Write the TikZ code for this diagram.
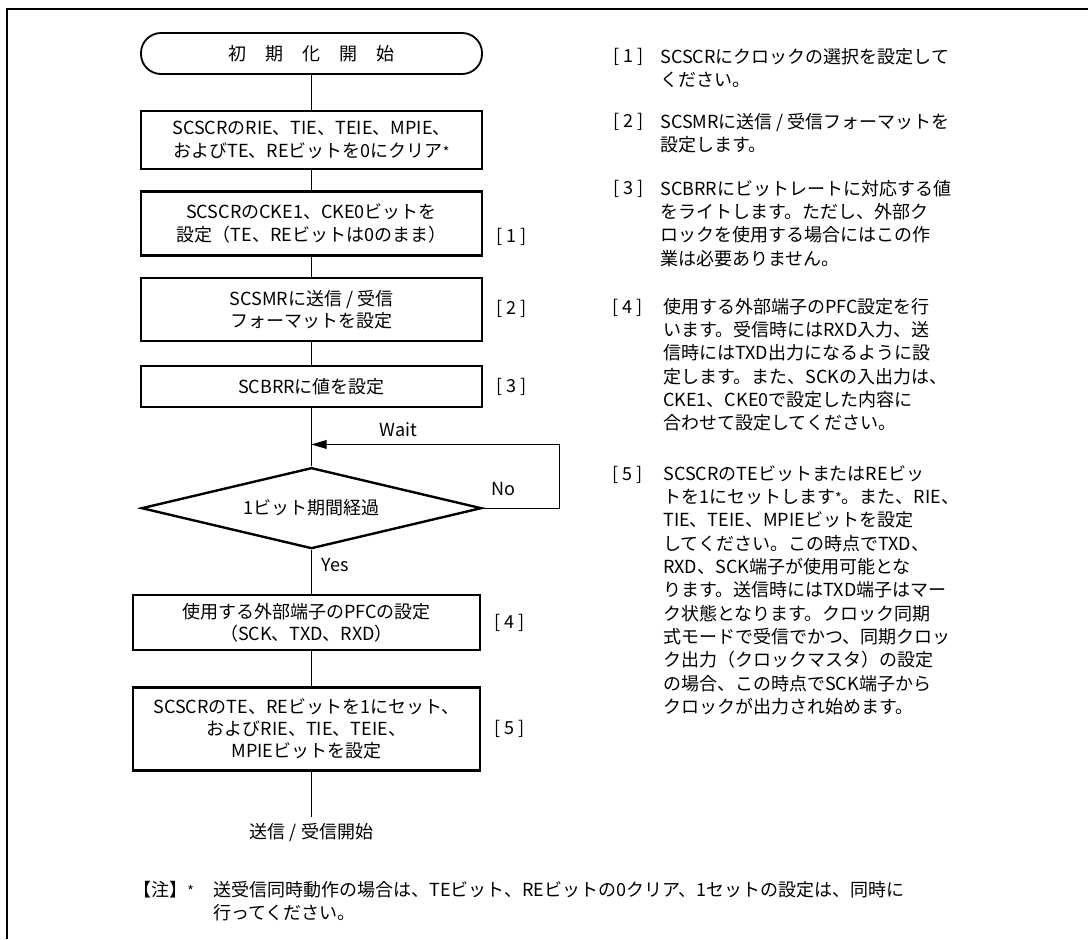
\documentclass[tikz,border=0pt]{standalone}
\usepackage{fontspec}
\setmainfont{Noto Sans CJK JP}
\usepackage{tikz}
\usetikzlibrary{shapes.geometric, arrows.meta, positioning}
\newcommand{\fnmark}{{\fontsize{10pt}{10pt}\selectfont *}}
\tikzset{
	startstop/.style={rectangle, rounded corners=0.5cm, minimum width=8.525cm, minimum height=1.025cm, align=center, draw=black, line width=1.3pt, font=\fontsize{12.8pt}{15.9pt}\selectfont},
	process/.style={rectangle, minimum width=8.525cm, align=center, draw=black, line width=1.7pt, font=\fontsize{12.8pt}{15.9pt}\selectfont},
	decision/.style={diamond, aspect=4.2, minimum width=8.5cm, minimum height=2.025cm, inner sep=0pt, align=center, draw=black, line width=1.7pt, font=\fontsize{12.8pt}{15.9pt}\selectfont},
	tag/.style={inner sep=0pt, font=\fontsize{12.8pt}{15.9pt}\selectfont},
	note/.style={inner sep=0pt, align=left, anchor=north west, font=\fontsize{12.8pt}{16.6pt}\selectfont},
	link/.style={line width=0.8pt},
	arrow/.style={line width=0.8pt, -{Triangle[length=3.8mm, width=2.2mm]}}
}
\begin{document}
\begin{tikzpicture}
	\useasboundingbox (0,0) rectangle (27.2,-23.475);
	% Rahmen
	\draw[line width=2pt] (0.175,-23.475) -- (0.175,-0.225) -- (27.2,-0.225);

	% Ablauf
	\node (start) [startstop] at (7.7875,-1.3375) {初\hspace{1.05em}期\hspace{1.05em}化\hspace{1.05em}開\hspace{1.05em}始};
	\node (clr) [process, below=0.875cm of start, minimum height=1.45cm] {SCSCRのRIE、TIE、TEIE、MPIE、\\およびTE、REビットを0にクリア\fnmark};
	\node (cke) [process, below=0.5cm of clr, minimum height=1.6cm] {SCSCRのCKE1、CKE0ビットを\\設定（TE、REビットは0のまま）};
	\node (smr) [process, below=0.5cm of cke, minimum height=1.575cm] {SCSMRに送信 / 受信\\フォーマットを設定};
	\node (brr) [process, below=0.575cm of smr, minimum height=1.025cm] {SCBRRに値を設定};
	\node (wait) [decision, below=1.45cm of brr] {1ビット期間経過};
	\node (pfc) [process, below=1.1cm of wait, xshift=-0.125cm, minimum width=8.675cm, minimum height=1.375cm] {使用する外部端子のPFCの設定\\（SCK、TXD、RXD）};
	\node (set) [process, below=0.875cm of pfc, minimum width=8.675cm, minimum height=2.075cm] {SCSCRのTE、REビットを1にセット、\\およびRIE、TIE、TEIE、\\MPIEビットを設定};
	\node (go) [below=1.125cm of set, xshift=0.125cm, inner sep=0.15cm, font=\fontsize{12.8pt}{15.9pt}\selectfont] {送信 / 受信開始};

	% Nummern
	\node (n1) [tag, right=0.325cm of cke.east, yshift=-0.325cm] {[ 1 ]};
	\node (n2) [tag, right=0.325cm of smr.east] {[ 2 ]};
	\node (n3) [tag, right=0.325cm of brr.east] {[ 3 ]};
	\node (n4) [tag, right=0.325cm of pfc.east] {[ 4 ]};
	\node (n5) [tag, right=0.325cm of set.east] {[ 5 ]};

	% Verbindungen
	\draw[link] (start) -- (clr);
	\draw[link] (clr) -- (cke);
	\draw[link] (cke) -- (smr);
	\draw[link] (smr) -- (brr);
	\draw[link] (brr) -- (wait);
	\draw[link] (wait) -- node[tag, right=7pt, pos=0.35] {Yes} (wait.south |- pfc.north);
	\draw[link] (pfc.south -| wait) -- (set.north -| wait);
	\draw[link] (set.south -| wait) -- (go);

	% Schleife
	\coordinate [above=0.55cm of wait.north] (join);
	\draw[arrow] (wait.east) -- node[tag, above=8.5pt, pos=0.27] {No} ++(1.925cm,0) |- node[tag, above=5pt, pos=0.825] {Wait} (join);

	% Erlaeuterungen
	\node (m1) [tag, anchor=base west] at (15.325,-1.575) {[ 1 ]};
	\node (t1) [note] at (16.5,-1.165) {\strut SCSCRにクロックの選択を設定して\\ください。};
	\node (m2) [tag, anchor=base west] at (15.325,-3.2) {[ 2 ]};
	\node (t2) [note] at (16.5,-2.79) {\strut SCSMRに送信 / 受信フォーマットを\\設定します。};
	\node (m3) [tag, anchor=base west] at (15.325,-4.875) {[ 3 ]};
	\node (t3) [note] at (16.5,-4.465) {\strut SCBRRにビットレートに対応する値\\をライトします。ただし、外部ク\\ロックを使用する場合にはこの作\\業は必要ありません。};
	\node (m4) [tag, anchor=base west] at (15.3,-7.825) {[ 4 ]};
	\node (t4) [note] at (16.575,-7.415) {\strut 使用する外部端子のPFC設定を行\\います。受信時にはRXD入力、送\\信時にはTXD出力になるように設\\定します。また、SCKの入出力は、\\CKE1、CKE0で設定した内容に\\合わせて設定してください。};
	\node (m5) [tag, anchor=base west] at (15.3,-12.0) {[ 5 ]};
	\node (t5) [note] at (16.575,-11.59) {\strut SCSCRのTEビットまたはREビッ\\トを1にセットします\fnmark 。また、RIE、\\TIE、TEIE、MPIEビットを設定\\してください。この時点でTXD、\\RXD、SCK端子が使用可能とな\\ります。送信時にはTXD端子はマー\\ク状態となります。クロック同期\\式モードで受信でかつ、同期クロッ\\ク出力（クロックマスタ）の設定\\の場合、この時点でSCK端子から\\クロックが出力され始めます。};

	% Fussnote
	\node (mk) [tag, anchor=base west] at (3.325,-22.4) {【注】\fnmark};
	\node (fn) [note] at (5.325,-21.99) {\strut 送受信同時動作の場合は、TEビット、REビットの0クリア、1セットの設定は、同時に\\行ってください。};
\end{tikzpicture}
\end{document}
